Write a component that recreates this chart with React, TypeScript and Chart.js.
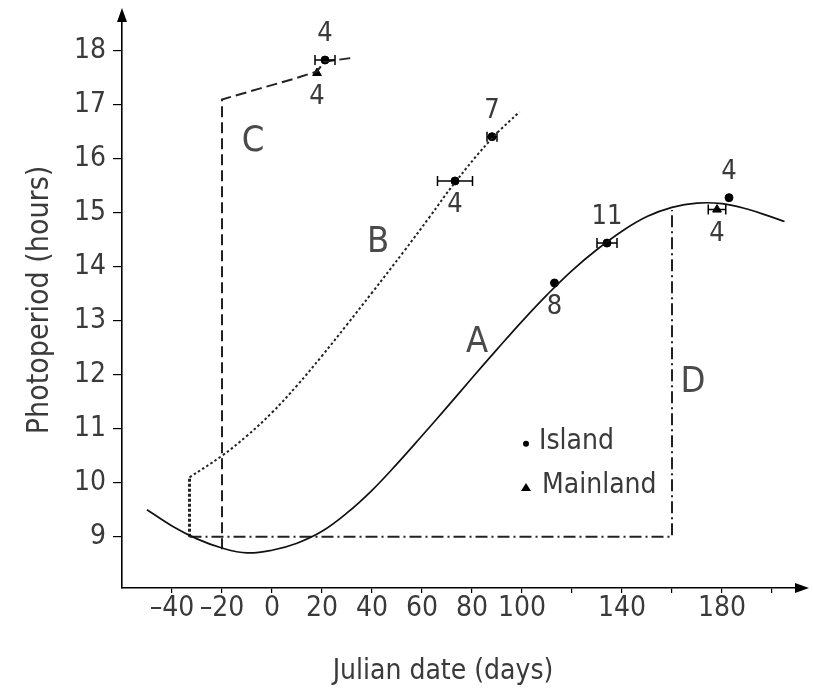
import React, { useEffect, useRef } from "react";
import { Chart, registerables } from "chart.js";

Chart.register(...registerables);

const FONT = "'DejaVu Sans Condensed', 'Liberation Sans Narrow', 'DejaVu Sans', sans-serif";
const TEXT = "#3a3a3a";

// Axis ticks
const xTickValues = [-40, -20, 0, 20, 40, 60, 80, 100, 120, 140, 160, 180, 200];
const xTickLabels = ["–40", "–20", "0", "20", "40", "60", "80", "100", "", "140", "", "180", ""];
const yTickValues = [9, 10, 11, 12, 13, 14, 15, 16, 17, 18];

// Curve A (solid)
const curveADays = [-50, -40, -30, -20, -10, 0, 10, 20, 30, 40, 50, 60, 70, 80, 90, 100, 110, 120, 130, 140, 150, 160, 170, 180, 190, 200, 205];
const curveAHours = [9.5, 9.2, 8.96, 8.79, 8.7, 8.75, 8.88, 9.1, 9.44, 9.86, 10.35, 10.87, 11.4, 11.94, 12.47, 12.99, 13.48, 13.93, 14.32, 14.66, 14.93, 15.1, 15.18, 15.17, 15.07, 14.92, 14.84];

// Curve B (dotted)
const curveBDays = [-33, -20, -10, 0, 10, 20, 30, 40, 53, 63, 73, 88, 99];
const curveBHours = [10.1, 10.5, 10.87, 11.3, 11.8, 12.35, 12.93, 13.52, 14.3, 14.92, 15.55, 16.38, 16.87];
const dropBDays = [-33, -33];
const dropBHours = [9.0, 10.1];

// Curve C (dashed)
const curveCDays = [-20, -20, -5, 10, 18, 21, 32];
const curveCHours = [8.77, 17.1, 17.3, 17.5, 17.62, 17.8, 17.87];

// Curve D (dash-dot)
const curveDDays = [-33, 160, 160];
const curveDHours = [9.0, 9.0, 15.05];

// Observations
const islandDays = [21.2, 73.2, 88, 113, 134, 182.8];
const islandHours = [17.83, 15.59, 16.41, 13.7, 14.44, 15.28];
const islandErr = [4, 7, 2, 0, 4, 0];
const islandN = ["4", "4", "7", "8", "11", "4"];
const islandSide = ["above", "below", "above", "below", "above", "above"];

const mainlandDays = [18, 178];
const mainlandHours = [17.59, 15.06];
const mainlandErr = [0, 3.5];
const mainlandN = ["4", "4"];
const mainlandSide = ["below", "below"];

// Curve letters
const letterText = ["A", "B", "C", "D"];
const letterDays = [82, 42.4, -7.6, 168.4];
const letterHours = [12.59, 14.44, 16.32, 11.85];

// Legend anchor (data units)
const legendLabels = ["Island", "Mainland"];
const legendDay = 101.6;
const legendHours = [10.76, 9.94];

const toPts = (xs: number[], ys: number[]) => xs.map((v, i) => ({ x: v, y: ys[i] }));

const annotPlugin = {
  id: "annot",
  afterDatasetsDraw(chart: any) {
    const { ctx, chartArea } = chart;
    const x = chart.scales.x;
    const y = chart.scales.y;
    ctx.save();
    ctx.strokeStyle = "#000";
    ctx.fillStyle = "#000";
    ctx.lineWidth = 1.5;

    const errBar = (d: number, h: number, e: number) => {
      if (!e) return;
      const x1 = x.getPixelForValue(d - e);
      const x2 = x.getPixelForValue(d + e);
      const py = y.getPixelForValue(h);
      ctx.beginPath();
      ctx.moveTo(x1, py);
      ctx.lineTo(x2, py);
      ctx.moveTo(x1, py - 5);
      ctx.lineTo(x1, py + 5);
      ctx.moveTo(x2, py - 5);
      ctx.lineTo(x2, py + 5);
      ctx.stroke();
    };
    islandDays.forEach((d, i) => errBar(d, islandHours[i], islandErr[i]));
    mainlandDays.forEach((d, i) => errBar(d, mainlandHours[i], mainlandErr[i]));

    // sample sizes
    ctx.font = `27px ${FONT}`;
    ctx.fillStyle = TEXT;
    ctx.textAlign = "center";
    ctx.textBaseline = "middle";
    const nLabel = (d: number, h: number, t: string, side: string) => {
      const px = x.getPixelForValue(d);
      const py = y.getPixelForValue(h);
      ctx.fillText(t, px, side === "above" ? py - 26 : py + 24);
    };
    islandDays.forEach((d, i) => nLabel(d, islandHours[i], islandN[i], islandSide[i]));
    mainlandDays.forEach((d, i) => nLabel(d, mainlandHours[i], mainlandN[i], mainlandSide[i]));

    // letters
    ctx.font = `36px ${FONT}`;
    ctx.fillStyle = "#4a4a4a";
    letterText.forEach((t, i) => {
      ctx.fillText(t, x.getPixelForValue(letterDays[i]), y.getPixelForValue(letterHours[i]));
    });

    // legend
    const lx = x.getPixelForValue(legendDay);
    const ly1 = y.getPixelForValue(legendHours[0]);
    const ly2 = y.getPixelForValue(legendHours[1]);
    ctx.fillStyle = "#000";
    ctx.beginPath();
    ctx.arc(lx, ly1 + 2, 3, 0, Math.PI * 2);
    ctx.fill();
    ctx.beginPath();
    ctx.moveTo(lx, ly2 - 3);
    ctx.lineTo(lx + 5, ly2 + 5);
    ctx.lineTo(lx - 5, ly2 + 5);
    ctx.closePath();
    ctx.fill();
    ctx.font = `28px ${FONT}`;
    ctx.fillStyle = TEXT;
    ctx.textAlign = "left";
    ctx.fillText(legendLabels[0], lx + 13, ly1);
    ctx.fillText(legendLabels[1], lx + 16, ly2);

    // x-axis title
    ctx.textAlign = "center";
    ctx.fillText("Julian date (days)", 443, 672);

    // axis arrows
    ctx.fillStyle = "#000";
    ctx.beginPath();
    ctx.moveTo(chartArea.left, chartArea.top - 4);
    ctx.lineTo(chartArea.left - 5, chartArea.top + 10);
    ctx.lineTo(chartArea.left + 5, chartArea.top + 10);
    ctx.closePath();
    ctx.fill();
    ctx.beginPath();
    ctx.moveTo(chartArea.right + 4, chartArea.bottom);
    ctx.lineTo(chartArea.right - 10, chartArea.bottom - 5);
    ctx.lineTo(chartArea.right - 10, chartArea.bottom + 5);
    ctx.closePath();
    ctx.fill();
    ctx.restore();
  },
};

export default function App() {
  const ref = useRef<HTMLCanvasElement | null>(null);
  useEffect(() => {
    if (!ref.current) return;
    const chart = new Chart(ref.current, {
      type: "scatter",
      data: {
        datasets: [
          {
            label: "A",
            data: toPts(curveADays, curveAHours),
            showLine: true,
            borderColor: "#111",
            borderWidth: 1.7,
            pointRadius: 0,
            tension: 0.4,
          },
          {
            label: "B",
            data: toPts(curveBDays, curveBHours),
            showLine: true,
            borderColor: "#222",
            borderWidth: 2,
            borderDash: [2.5, 2.5],
            pointRadius: 0,
            tension: 0.4,
          },
          {
            label: "B drop",
            data: toPts(dropBDays, dropBHours),
            showLine: true,
            borderColor: "#222",
            borderWidth: 3,
            borderDash: [3, 2],
            pointRadius: 0,
          },
          {
            label: "C",
            data: toPts(curveCDays, curveCHours),
            showLine: true,
            borderColor: "#222",
            borderWidth: 2,
            borderDash: [11, 5],
            pointRadius: 0,
            tension: 0,
          },
          {
            label: "D",
            data: toPts(curveDDays, curveDHours),
            showLine: true,
            borderColor: "#222",
            borderWidth: 2,
            borderDash: [12, 4, 2, 4],
            pointRadius: 0,
            tension: 0,
          },
          {
            label: "Island",
            data: toPts(islandDays, islandHours),
            showLine: false,
            pointStyle: "circle",
            pointRadius: 4,
            backgroundColor: "#000",
            borderColor: "#000",
          },
          {
            label: "Mainland",
            data: toPts(mainlandDays, mainlandHours),
            showLine: false,
            pointStyle: "triangle",
            pointRadius: 5,
            backgroundColor: "#000",
            borderColor: "#000",
          },
        ],
      },
      options: {
        animation: false,
        responsive: false,
        maintainAspectRatio: false,
        layout: { padding: { top: 12, right: 8, left: 0, bottom: 0 } },
        plugins: { legend: { display: false }, tooltip: { enabled: false } },
        scales: {
          x: {
            type: "linear",
            min: -60,
            max: 213.2,
            afterBuildTicks: (s: any) => {
              s.ticks = xTickValues.map((v) => ({ value: v }));
            },
            afterFit: (s: any) => {
              s.height = 102;
              s.paddingLeft = 0;
              s.paddingRight = 0;
            },
            grid: { display: true, drawOnChartArea: false, drawTicks: true, tickLength: 5, color: "#000", lineWidth: 1.2 },
            border: { display: true, color: "#000", width: 1.6 },
            ticks: {
              autoSkip: false,
              maxRotation: 0,
              padding: -1,
              color: TEXT,
              font: { family: FONT, size: 28 },
              callback: (v: any) => {
                const i = xTickValues.indexOf(Number(v));
                return i >= 0 ? xTickLabels[i] : "";
              },
            },
          },
          y: {
            type: "linear",
            min: 8.05,
            max: 18.72,
            afterBuildTicks: (s: any) => {
              s.ticks = yTickValues.map((v) => ({ value: v }));
            },
            afterFit: (s: any) => {
              s.width = 122;
              s.paddingTop = 0;
              s.paddingBottom = 0;
            },
            grid: { display: true, drawOnChartArea: false, drawTicks: true, tickLength: 9, color: "#000", lineWidth: 1.2 },
            border: { display: true, color: "#000", width: 1.6 },
            ticks: {
              autoSkip: false,
              padding: 7,
              color: TEXT,
              font: { family: FONT, size: 28 },
            },
            title: {
              display: true,
              text: "Photoperiod (hours)",
              color: TEXT,
              font: { family: FONT, size: 30 },
              padding: { top: 22, bottom: 0 },
            },
          },
        },
      },
      plugins: [annotPlugin],
    });
    return () => chart.destroy();
  }, []);
  return (
    <div style={{ position: "fixed", left: 0, top: 0, width: 813, height: 690, background: "#fff" }}>
      <canvas ref={ref} width={813} height={690} style={{ width: 813, height: 690 }} />
    </div>
  );
}
